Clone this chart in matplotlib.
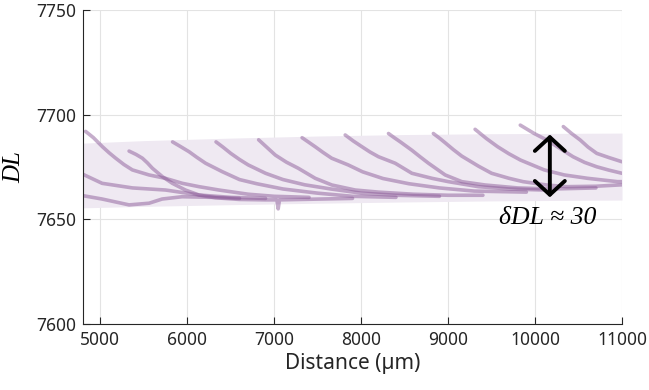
import matplotlib
matplotlib.use("Agg")
import matplotlib.pyplot as plt

# ---------------- data ----------------
band_x = [4800, 5500, 6500, 7500, 8500, 9500, 10500, 11000]
band_top = [7686.4, 7687.6, 7688.8, 7689.8, 7690.5, 7690.9, 7691.1, 7691.2]
band_bot = [7655.5, 7656.2, 7657.0, 7657.7, 7658.3, 7658.8, 7659.1, 7659.2]

z_x = [4700, 4800, 5020, 5330, 5560, 5710, 5940, 6300, 6600]
z_y = [7662.0, 7661.3, 7659.7, 7656.9, 7657.7, 7659.7, 7660.8, 7660.5, 7660.0]
y_x = [4700, 4800, 5020, 5370, 5750, 6140, 6500, 6900]
y_y = [7675.0, 7671.5, 7667.2, 7665.0, 7664.0, 7661.6, 7660.5, 7660.0]
a_x = [4830, 4920, 5023, 5100, 5176, 5270, 5368, 5560, 5747, 5943, 6135, 6364, 6700, 7000, 7400]
a_y = [7692.0, 7689.0, 7684.7, 7681.8, 7679.2, 7676.2, 7673.6, 7671.2, 7669.6, 7667.2, 7665.6, 7664.0, 7662.0, 7661.0, 7660.5]
b_x = [5330, 5410, 5483, 5540, 5598, 5713, 5828, 5978, 6135, 6322, 6600, 6900, 7030, 7045, 7060, 7300, 7900]
b_y = [7682.6, 7681.0, 7679.2, 7677.0, 7674.4, 7670.4, 7667.2, 7664.0, 7661.6, 7660.3, 7659.5, 7659.3, 7659.3, 7655.0, 7659.3, 7659.5, 7660.0]
c_x = [5830, 5920, 6020, 6110, 6210, 6400, 6600, 6800, 7100, 7500, 7900, 8400]
c_y = [7687.0, 7684.8, 7682.3, 7679.6, 7676.8, 7672.8, 7669.0, 7667.0, 7664.5, 7662.5, 7661.0, 7660.5]
d_x = [6330, 6410, 6500, 6600, 6700, 6900, 7100, 7350, 7650, 8000, 8400, 8900]
d_y = [7687.0, 7684.5, 7681.5, 7678.6, 7676.0, 7672.0, 7669.0, 7666.5, 7664.5, 7662.5, 7661.5, 7661.0]
e_x = [6820, 6920, 7012, 7140, 7276, 7471, 7663, 7931, 8200, 8600, 9000, 9400]
e_y = [7688.0, 7684.2, 7680.7, 7677.3, 7674.4, 7669.6, 7666.4, 7664.0, 7663.0, 7662.0, 7661.5, 7661.5]
f_x = [7320, 7390, 7470, 7560, 7660, 7850, 8016, 8250, 8550, 8900, 9300, 9900]
f_y = [7689.0, 7687.0, 7684.7, 7682.0, 7679.2, 7676.0, 7672.7, 7669.5, 7667.0, 7665.0, 7663.5, 7663.0]
g_x = [7816, 7910, 8008, 8100, 8199, 8391, 8583, 8813, 9003, 9348, 9700, 10100]
g_y = [7690.3, 7687.4, 7684.7, 7682.2, 7679.9, 7676.8, 7672.0, 7669.6, 7668.0, 7665.6, 7664.5, 7664.0]
h_x = [8314, 8380, 8450, 8583, 8680, 8774, 8966, 9157, 9426, 9800, 10200, 10700]
h_y = [7691.0, 7689.0, 7687.0, 7683.0, 7679.8, 7676.8, 7671.2, 7668.0, 7666.4, 7665.0, 7664.5, 7665.0]
i_x = [8830, 8900, 8965, 9060, 9157, 9349, 9500, 9700, 9862, 10134, 10364, 10700, 11000]
i_y = [7691.0, 7688.8, 7686.6, 7683.3, 7680.2, 7675.4, 7672.0, 7669.6, 7668.0, 7666.4, 7665.6, 7665.8, 7666.5]
j_x = [9310, 9440, 9569, 9700, 9833, 10106, 10336, 10603, 10948, 11000]
j_y = [7693.0, 7688.6, 7684.7, 7681.3, 7678.3, 7673.6, 7671.2, 7669.6, 7668.0, 7668.0]
k_x = [9830, 9990, 10135, 10300, 10437, 10570, 10710, 10850, 11000]
k_y = [7695.0, 7691.0, 7687.9, 7683.5, 7679.9, 7677.2, 7675.1, 7673.5, 7672.0]
l_x = [10325, 10420, 10519, 10610, 10710, 10850, 11000]
l_y = [7694.3, 7691.0, 7687.9, 7684.5, 7681.5, 7679.5, 7677.5]

traces = [(z_x, z_y), (y_x, y_y), (a_x, a_y), (b_x, b_y), (c_x, c_y), (d_x, d_y),
          (e_x, e_y), (f_x, f_y), (g_x, g_y), (h_x, h_y), (i_x, i_y), (j_x, j_y),
          (k_x, k_y), (l_x, l_y)]

arrow_x = 10170
arrow_y = [7660.5, 7690.5]
note_text = "δDL ≈ 30"
note_xy = (10150, 7650.5)

x_ticks = [5000, 6000, 7000, 8000, 9000, 10000, 11000]
y_ticks = [7600, 7650, 7700, 7750]

# ---------------- plot ----------------
fig = plt.figure(figsize=(6.49, 3.90), dpi=100)
ax = fig.add_axes([0.1279, 0.1692, 0.9584 - 0.1279, 0.9744 - 0.1692])

axc = "#262626"
ax.fill_between(band_x, band_bot, band_top, color="#efe9f2", lw=0, zorder=1)
for tx, ty in traces:
    ax.plot(tx, ty, color=(0.55, 0.36, 0.60), alpha=0.5, lw=2.6,
            solid_capstyle="round", solid_joinstyle="round", zorder=2)

ax.annotate("", xy=(arrow_x, arrow_y[0]), xytext=(arrow_x, arrow_y[1]),
            arrowprops=dict(arrowstyle="<->,head_length=0.55,head_width=0.6",
                            color="black", lw=2.8, mutation_scale=18,
                            shrinkA=0, shrinkB=0), zorder=5)
ax.text(note_xy[0], note_xy[1], note_text, ha="center", va="center",
        fontsize=18.5, fontstyle="italic", family="Liberation Serif", color="black")

ax.set_xlim(4800, 11000)
ax.set_ylim(7600, 7750)
ax.set_xticks(x_ticks)
ax.set_yticks(y_ticks)
ax.grid(True, color="#e3e3e3", lw=0.8)
ax.set_axisbelow(True)
for s in ["top", "right"]:
    ax.spines[s].set_visible(False)
for s in ["left", "bottom"]:
    ax.spines[s].set_color(axc)
    ax.spines[s].set_linewidth(0.8)
ax.tick_params(direction="in", length=5, width=0.8, color=axc,
               labelcolor=axc, labelsize=12.5, pad=5)
for lab in ax.get_xticklabels() + ax.get_yticklabels():
    lab.set_family("Noto Sans")

ax.set_xlabel("Distance (µm)", family="Noto Sans", fontsize=15, color=axc, labelpad=3)
ax.set_ylabel("DL", family="Liberation Serif", fontstyle="italic", fontsize=18,
              color="black", labelpad=8)

fig.savefig("out.png", dpi=100)
